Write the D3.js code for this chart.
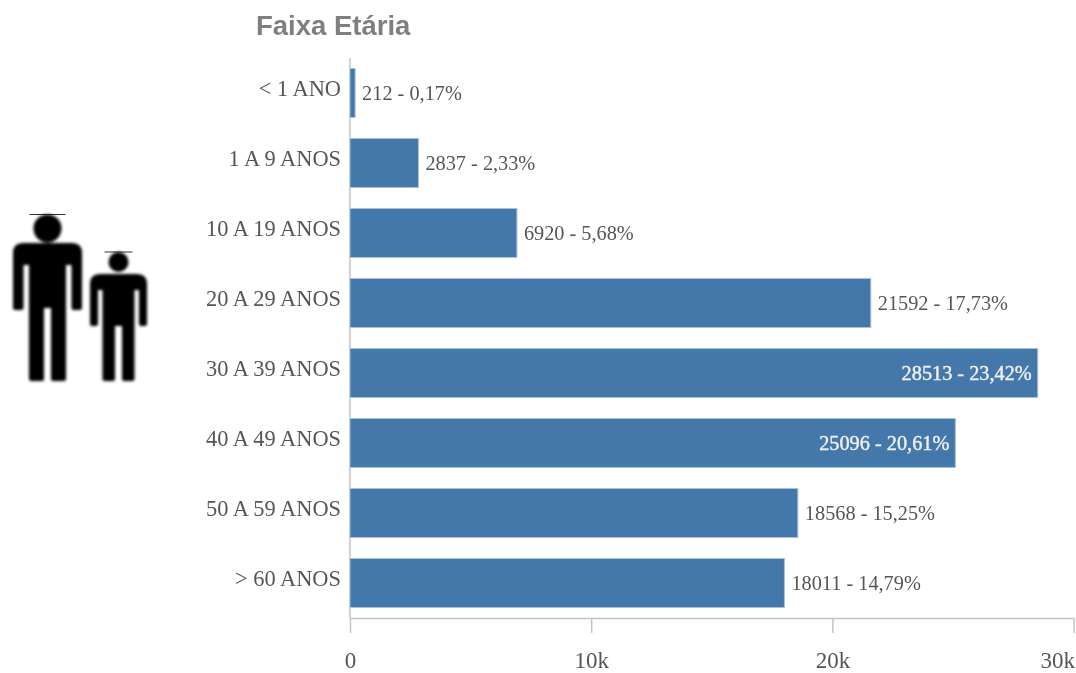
<!DOCTYPE html>
<html><head><meta charset="utf-8">
<script src="https://cdn.jsdelivr.net/npm/d3@7/dist/d3.min.js"></script>
<style>html,body{margin:0;padding:0;background:#fff}svg{display:block}</style>
</head><body><svg id="c" width="1076" height="673"></svg>
<script>
const categories=["< 1 ANO","1 A 9 ANOS","10 A 19 ANOS","20 A 29 ANOS","30 A 39 ANOS","40 A 49 ANOS","50 A 59 ANOS","> 60 ANOS"];
const values=[212,2837,6920,21592,28513,25096,18568,18011];
const percents=["0,17%","2,33%","5,68%","17,73%","23,42%","20,61%","15,25%","14,79%"];
const xTicks=[0,10000,20000,30000];
const xTickLabels=["0","10k","20k","30k"];

const svg=d3.select("#c");
const serif="'Liberation Serif',serif";
const defs=svg.append("defs");
defs.append("filter").attr("id","soft").attr("x","-5%").attr("y","-20%").attr("width","110%").attr("height","140%")
  .append("feGaussianBlur").attr("stdDeviation",0.6);
defs.append("filter").attr("id","softer").attr("x","-10%").attr("y","-10%").attr("width","120%").attr("height","120%")
  .append("feGaussianBlur").attr("stdDeviation",1.4);

const x=d3.scaleLinear().domain([0,30000]).range([350,1073.6]);
const y=d3.scaleBand().domain(categories).range([58,618]).paddingInner(0.3).paddingOuter(0.15);

svg.append("text").attr("x",256).attr("y",35).attr("font-family","'Liberation Sans',sans-serif")
  .attr("font-size",27.5).attr("font-weight","bold").attr("fill","#7f7f7f").attr("filter","url(#soft)").text("Faixa Etária");

// axis
const axisG=svg.append("g").attr("transform","translate(0,618)").attr("filter","url(#soft)");
const ax=d3.axisBottom(x).tickValues(xTicks).tickSize(15).tickSizeOuter(0).tickFormat((d,i)=>xTickLabels[i]);
axisG.call(ax);
axisG.select(".domain").attr("stroke","#c4c4c4").attr("stroke-width",1.5);
axisG.selectAll(".tick line").attr("stroke","#c4c4c4").attr("stroke-width",1.5);
axisG.selectAll(".tick text").attr("font-family",serif).attr("font-size",23).attr("fill","#555").attr("y",50).attr("dy",0)
  .attr("text-anchor",d=>d===30000?"end":"middle")
  .attr("dx",d=>d===30000?1:0);
svg.append("line").attr("x1",350).attr("x2",350).attr("y1",58).attr("y2",618).attr("stroke","#c4c4c4").attr("stroke-width",1.5);

// bars
svg.append("g").selectAll("rect").data(values).join("rect")
  .attr("x",x(0)).attr("y",(d,i)=>y(categories[i]))
  .attr("width",d=>x(d)-x(0)).attr("height",y.bandwidth())
  .attr("fill","#4477aa").attr("stroke","#a9c1d9").attr("stroke-width",1);

// labels
const lab=svg.append("g").attr("filter","url(#soft)");
lab.selectAll("text.cat").data(categories).join("text").attr("class","cat")
  .attr("x",341).attr("y",d=>y(d)+y.bandwidth()/2+3).attr("text-anchor","end")
  .attr("font-family",serif).attr("font-size",22.4).attr("fill","#555").text(d=>d);
lab.selectAll("text.val").data(values).join("text").attr("class","val")
  .attr("x",d=>d>25000?x(d)-6:x(d)+7)
  .attr("y",(d,i)=>y(categories[i])+y.bandwidth()/2+7)
  .attr("text-anchor",d=>d>25000?"end":"start")
  .attr("font-family",serif).attr("font-size",20.3)
  .attr("fill",d=>d>25000?"#f0f0f0":"#555")
  .attr("stroke",d=>d>25000?"#f0f0f0":"none").attr("stroke-width",0.4)
  .text((d,i)=>d+" - "+percents[i]);

// icon
const icon=svg.append("g").attr("filter","url(#softer)").attr("fill","#000").attr("stroke","#000").attr("stroke-width",4).attr("stroke-linejoin","round");
function person(cx,headY,r,top,sh,hw,armW,armEnd,armIn,gap,crotch,foot){
  const s=2;
  icon.append("circle").attr("cx",cx).attr("cy",headY).attr("r",r-s);
  const T=top+s,H=hw-s,A=armW-2*s,E=armEnd-s,I=armIn-s,S=sh-s,G=gap+s,C=crotch-s,F=foot-s;
  const p=d3.path();
  p.moveTo(cx-H+8,T);p.lineTo(cx+H-8,T);p.quadraticCurveTo(cx+H,T,cx+H,T+8);
  p.lineTo(cx+H,E);p.lineTo(cx+H-A,E);p.lineTo(cx+H-A,I);
  p.lineTo(cx+S,I);p.lineTo(cx+S,F);p.lineTo(cx+G,F);p.lineTo(cx+G,C);
  p.lineTo(cx-G,C);p.lineTo(cx-G,F);p.lineTo(cx-S,F);p.lineTo(cx-S,I);
  p.lineTo(cx-H+A,I);p.lineTo(cx-H+A,E);p.lineTo(cx-H,E);
  p.lineTo(cx-H,T+8);p.quadraticCurveTo(cx-H,T,cx-H+8,T);p.closePath();
  icon.append("path").attr("d",p.toString());
  svg.append("line").attr("x1",cx-r-4).attr("x2",cx+r+4).attr("y1",headY-r).attr("y2",headY-r).attr("stroke","#000").attr("stroke-width",1).attr("opacity",0.8);
}
person(47.5,228.5,14,243,18.5,34.5,10.5,310,265,3.5,308,381);
person(118.5,262,10,274,16,28.5,8,326,290,3.5,326,381);
</script></body></html>
